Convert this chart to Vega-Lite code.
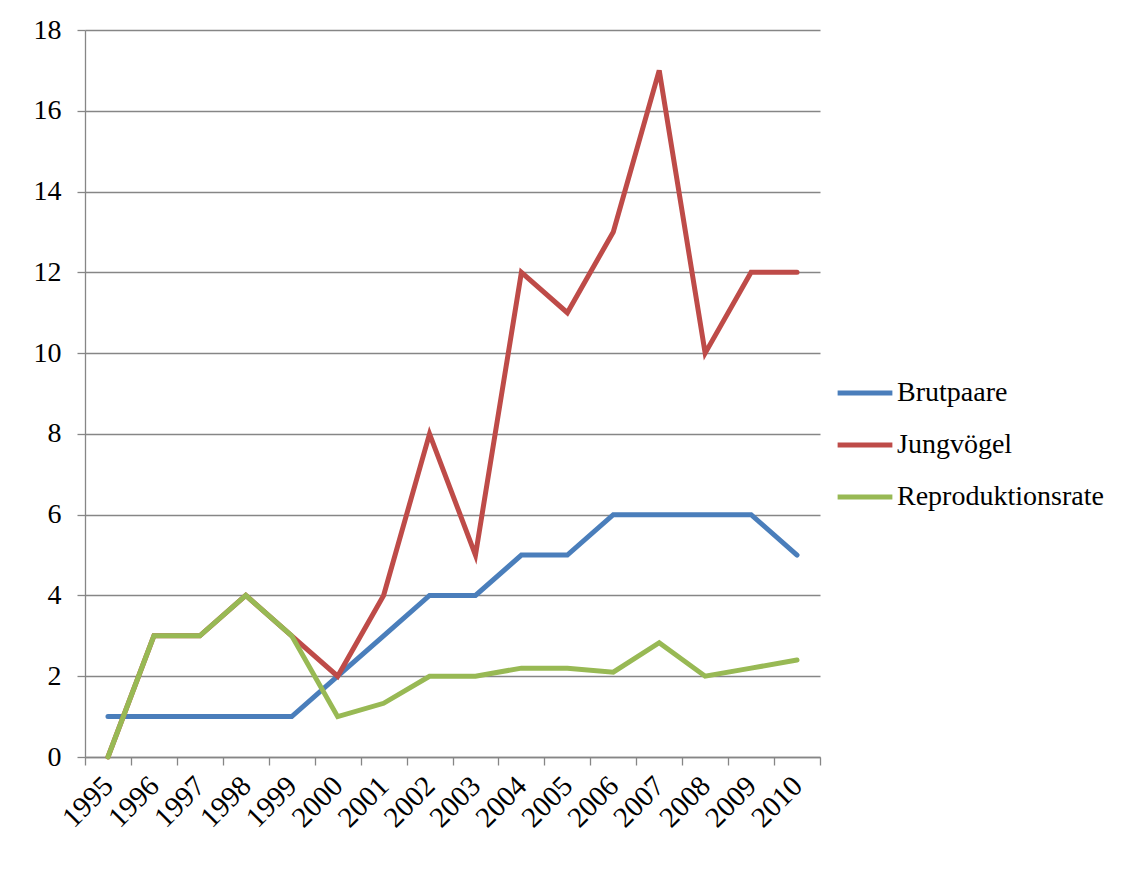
{
  "$schema": "https://vega.github.io/schema/vega-lite/v6.json",
  "autosize": "none",
  "width": 735,
  "height": 727,
  "padding": {"left": 85, "top": 30, "right": 315, "bottom": 113},
  "background": "white",
  "config": {
    "view": {"stroke": null},
    "font": "Liberation Serif"
  },
  "data": {
    "values": [
      {"Jahr": "1995", "Serie": "Brutpaare", "Wert": 1},
      {"Jahr": "1996", "Serie": "Brutpaare", "Wert": 1},
      {"Jahr": "1997", "Serie": "Brutpaare", "Wert": 1},
      {"Jahr": "1998", "Serie": "Brutpaare", "Wert": 1},
      {"Jahr": "1999", "Serie": "Brutpaare", "Wert": 1},
      {"Jahr": "2000", "Serie": "Brutpaare", "Wert": 2},
      {"Jahr": "2001", "Serie": "Brutpaare", "Wert": 3},
      {"Jahr": "2002", "Serie": "Brutpaare", "Wert": 4},
      {"Jahr": "2003", "Serie": "Brutpaare", "Wert": 4},
      {"Jahr": "2004", "Serie": "Brutpaare", "Wert": 5},
      {"Jahr": "2005", "Serie": "Brutpaare", "Wert": 5},
      {"Jahr": "2006", "Serie": "Brutpaare", "Wert": 6},
      {"Jahr": "2007", "Serie": "Brutpaare", "Wert": 6},
      {"Jahr": "2008", "Serie": "Brutpaare", "Wert": 6},
      {"Jahr": "2009", "Serie": "Brutpaare", "Wert": 6},
      {"Jahr": "2010", "Serie": "Brutpaare", "Wert": 5},
      {"Jahr": "1995", "Serie": "Jungvögel", "Wert": 0},
      {"Jahr": "1996", "Serie": "Jungvögel", "Wert": 3},
      {"Jahr": "1997", "Serie": "Jungvögel", "Wert": 3},
      {"Jahr": "1998", "Serie": "Jungvögel", "Wert": 4},
      {"Jahr": "1999", "Serie": "Jungvögel", "Wert": 3},
      {"Jahr": "2000", "Serie": "Jungvögel", "Wert": 2},
      {"Jahr": "2001", "Serie": "Jungvögel", "Wert": 4},
      {"Jahr": "2002", "Serie": "Jungvögel", "Wert": 8},
      {"Jahr": "2003", "Serie": "Jungvögel", "Wert": 5},
      {"Jahr": "2004", "Serie": "Jungvögel", "Wert": 12},
      {"Jahr": "2005", "Serie": "Jungvögel", "Wert": 11},
      {"Jahr": "2006", "Serie": "Jungvögel", "Wert": 13},
      {"Jahr": "2007", "Serie": "Jungvögel", "Wert": 17},
      {"Jahr": "2008", "Serie": "Jungvögel", "Wert": 10},
      {"Jahr": "2009", "Serie": "Jungvögel", "Wert": 12},
      {"Jahr": "2010", "Serie": "Jungvögel", "Wert": 12},
      {"Jahr": "1995", "Serie": "Reproduktionsrate", "Wert": 0},
      {"Jahr": "1996", "Serie": "Reproduktionsrate", "Wert": 3},
      {"Jahr": "1997", "Serie": "Reproduktionsrate", "Wert": 3},
      {"Jahr": "1998", "Serie": "Reproduktionsrate", "Wert": 4},
      {"Jahr": "1999", "Serie": "Reproduktionsrate", "Wert": 3},
      {"Jahr": "2000", "Serie": "Reproduktionsrate", "Wert": 1},
      {"Jahr": "2001", "Serie": "Reproduktionsrate", "Wert": 1.33},
      {"Jahr": "2002", "Serie": "Reproduktionsrate", "Wert": 2},
      {"Jahr": "2003", "Serie": "Reproduktionsrate", "Wert": 2},
      {"Jahr": "2004", "Serie": "Reproduktionsrate", "Wert": 2.2},
      {"Jahr": "2005", "Serie": "Reproduktionsrate", "Wert": 2.2},
      {"Jahr": "2006", "Serie": "Reproduktionsrate", "Wert": 2.1},
      {"Jahr": "2007", "Serie": "Reproduktionsrate", "Wert": 2.83},
      {"Jahr": "2008", "Serie": "Reproduktionsrate", "Wert": 2},
      {"Jahr": "2009", "Serie": "Reproduktionsrate", "Wert": 2.2},
      {"Jahr": "2010", "Serie": "Reproduktionsrate", "Wert": 2.4}
    ]
  },
  "mark": {"type": "line", "strokeWidth": 5, "strokeCap": "round", "strokeJoin": "miter"},
  "encoding": {
    "x": {
      "field": "Jahr",
      "type": "ordinal",
      "bandPosition": 0.5,
      "scale": {"type": "band", "paddingInner": 0, "paddingOuter": 0},
      "axis": {
        "title": null,
        "tickBand": "extent",
        "grid": false,
        "domainColor": "#868686",
        "domainWidth": 1.3,
        "tickColor": "#868686",
        "tickWidth": 1.3,
        "tickSize": 8,
        "labelAngle": -45,
        "labelAlign": "right",
        "labelBaseline": "middle",
        "labelFont": "Liberation Serif",
        "labelFontSize": 29,
        "labelColor": "black",
        "labelPadding": 16
      }
    },
    "y": {
      "field": "Wert",
      "type": "quantitative",
      "scale": {"domain": [0, 18], "nice": false, "zero": true},
      "axis": {
        "title": null,
        "values": [0, 2, 4, 6, 8, 10, 12, 14, 16, 18],
        "grid": true,
        "gridColor": "#868686",
        "gridWidth": 1.3,
        "domainColor": "#868686",
        "domainWidth": 1.3,
        "tickColor": "#868686",
        "tickWidth": 1.3,
        "tickSize": 8,
        "labelFont": "Liberation Serif",
        "labelFontSize": 28,
        "labelColor": "black",
        "labelPadding": 16
      }
    },
    "color": {
      "field": "Serie",
      "type": "nominal",
      "scale": {
        "domain": ["Brutpaare", "Jungvögel", "Reproduktionsrate"],
        "range": ["#4A7EBB", "#BE4B48", "#98B954"]
      },
      "legend": {
        "title": null,
        "orient": "none",
        "legendX": 750,
        "legendY": 333,
        "symbolType": "stroke",
        "symbolSize": 3000,
        "symbolStrokeWidth": 5,
        "labelFont": "Liberation Serif",
        "labelFontSize": 28,
        "labelColor": "black",
        "labelLimit": 400,
        "labelOffset": 2,
        "rowPadding": 8
      }
    }
  }
}
